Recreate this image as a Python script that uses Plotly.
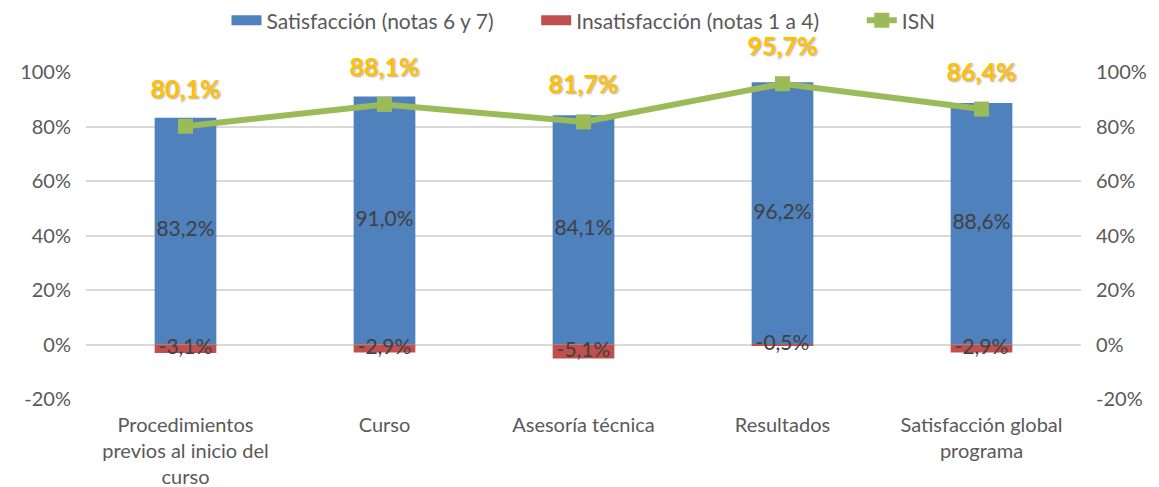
import plotly.graph_objects as go

categorias = ['Procedimientos<br>previos al inicio del<br>curso', 'Curso', 'Asesoría técnica',
              'Resultados', 'Satisfacción global<br>programa']
satisfaccion = [0.832, 0.910, 0.841, 0.962, 0.886]
insatisfaccion = [-0.031, -0.029, -0.051, -0.005, -0.029]
isn = [0.801, 0.881, 0.817, 0.957, 0.864]
ticks_y = [-0.2, 0.0, 0.2, 0.4, 0.6, 0.8, 1.0]

FONT = 'Lato'
GRIS = '#595959'
AZUL = '#4F81BD'
ROJO = '#C0504D'
VERDE = '#9BBB59'
ESPACIO = '\u00a0' * 7


def pct(v):
    return ('%.1f%%' % (v * 100)).replace('.', ',')


fig = go.Figure()

fig.add_trace(go.Bar(
    x=categorias, y=satisfaccion,
    name='Satisfacción (notas 6 y 7)',
    marker=dict(color=AZUL, line=dict(width=0)),
    width=0.31, showlegend=False
))

fig.add_trace(go.Bar(
    x=categorias, y=insatisfaccion,
    name='Insatisfacción (notas 1 a 4)',
    marker=dict(color=ROJO, line=dict(width=0)),
    width=0.31, showlegend=False
))

# entradas de leyenda con rectangulo ancho, como en Excel
fig.add_trace(go.Scatter(
    x=[None], y=[None], mode='lines', name='Satisfacción (notas 6 y 7)' + ESPACIO,
    line=dict(color=AZUL, width=13)
))
fig.add_trace(go.Scatter(
    x=[None], y=[None], mode='lines', name='Insatisfacción (notas 1 a 4)' + ESPACIO,
    line=dict(color=ROJO, width=13)
))

# etiquetas centradas en las barras
fig.add_trace(go.Scatter(
    x=categorias, y=[v / 2 for v in satisfaccion],
    mode='text', text=[pct(v) for v in satisfaccion],
    textfont=dict(family=FONT, size=21, color='#404040'),
    showlegend=False, hoverinfo='skip'
))
fig.add_trace(go.Scatter(
    x=categorias, y=[v / 2 for v in insatisfaccion],
    mode='text', text=[pct(v) for v in insatisfaccion],
    textfont=dict(family=FONT, size=21, color='#404040'),
    showlegend=False, hoverinfo='skip'
))

fig.add_trace(go.Scatter(
    x=categorias, y=isn,
    name='ISN',
    mode='lines+markers',
    line=dict(color=VERDE, width=6),
    marker=dict(symbol='square', size=15, color=VERDE),
))

# etiquetas ISN (marcador invisible grande para separarlas del punto)
fig.add_trace(go.Scatter(
    x=categorias, y=isn,
    mode='markers+text',
    marker=dict(size=34, opacity=0),
    text=[pct(v) for v in isn],
    textposition='top center',
    textfont=dict(family=FONT, size=25, color='#FFC000', weight='bold',
                  shadow='1px 1px 2px rgba(0,0,0,0.35)'),
    cliponaxis=False, showlegend=False, hoverinfo='skip'
))

# eje secundario solo para las etiquetas de la derecha
fig.add_trace(go.Scatter(
    x=categorias, y=isn, yaxis='y2', mode='markers',
    marker=dict(opacity=0), showlegend=False, hoverinfo='skip'
))

ejes_y = dict(
    range=[-0.2, 1.0], tickvals=ticks_y,
    ticktext=[('%d%%' % round(v * 100)) for v in ticks_y],
    tickfont=dict(family=FONT, size=20, color=GRIS),
    zeroline=False, ticks='', showline=False, automargin=False,
    ticklabelstandoff=14
)

fig.update_layout(
    width=1159, height=487,
    barmode='relative',
    plot_bgcolor='white', paper_bgcolor='white',
    margin=dict(l=78, r=86, t=64, b=96),
    font=dict(family=FONT, color=GRIS),
    xaxis=dict(tickfont=dict(family=FONT, size=20, color=GRIS), showline=False,
               ticks='', showgrid=False, automargin=False, ticklabelstandoff=12),
    yaxis=dict(**ejes_y, showgrid=True, gridcolor='#D9D9D9', gridwidth=1.5),
    yaxis2=dict(**ejes_y, overlaying='y', side='right', showgrid=False),
    legend=dict(orientation='h', x=0.5, xanchor='center', yref='container',
                y=0.974, yanchor='middle', bgcolor='rgba(0,0,0,0)',
                font=dict(family=FONT, size=21, color=GRIS),
                traceorder='normal', itemwidth=30),
)

fig.write_html("out.html")
